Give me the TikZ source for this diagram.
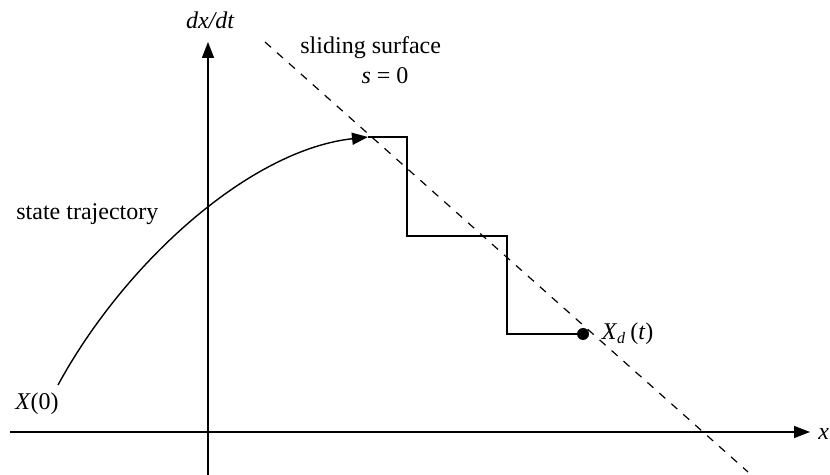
\documentclass[tikz,border=0pt]{standalone}
\usepackage{fontspec}
\setmainfont{Liberation Serif}
\usetikzlibrary{positioning,arrows.meta,calc}

\begin{document}
\begin{tikzpicture}[
  x=0.5pt, y=-0.5pt,
  axis/.style={line width=0.7pt, -{Triangle[length=8pt,width=6pt]}},
  traj/.style={line width=0.7pt},
  surf/.style={line width=0.6pt, dash pattern=on 4pt off 4pt},
  lbl/.style={font=\fontsize{12}{14}\selectfont, inner sep=1pt}
]
  \useasboundingbox (0,0) rectangle (830,475);

  % axes
  \coordinate (ybot) at (208,475);
  \coordinate (ytop) at (208,42);
  \coordinate (xleft) at (10,432);
  \coordinate (xright) at (810,432);
  \draw[axis] (ybot) -- (ytop);
  \draw[axis] (xleft) -- (xright);
  \node[lbl, font=\fontsize{12}{14}\selectfont\itshape] (ylab) at (210,20) {dx/dt};
  \node[lbl, anchor=west] (xlab) at (816,434) {\textit{x}};

  % sliding surface
  \coordinate (s1) at (265,42);
  \coordinate (s2) at (748,472);
  \draw[surf] (s1) -- (s2);
  \node[lbl, anchor=west] (slide) at (298,48) {sliding surface};
  \node[lbl] (szero) at (385,76) {\textit{s} = 0};

  % state trajectory
  \coordinate (x0) at (58,385);
  \coordinate (hit) at (368,137);
  \draw[traj, -{Triangle[length=8pt,width=6pt]}] (x0) .. controls (125,262) and (250,150) .. (hit);
  \node[lbl, anchor=west] (trajlab) at (14,214) {state trajectory};
  \node[lbl] (x0lab) at (37,404) {\textit{X}(0)};

  % chattering steps
  \node[circle, fill, inner sep=0pt, minimum size=6pt] (xd) at (583,334) {};
  \draw[traj] (hit) -- (407,137) -- (407,236) -- (507,236) -- (507,334) -- (xd);
  \node[lbl, right=5pt of xd] (xdlab) {\textit{X}\textsubscript{\textit{d}}\,(\textit{t})};
\end{tikzpicture}
\end{document}
